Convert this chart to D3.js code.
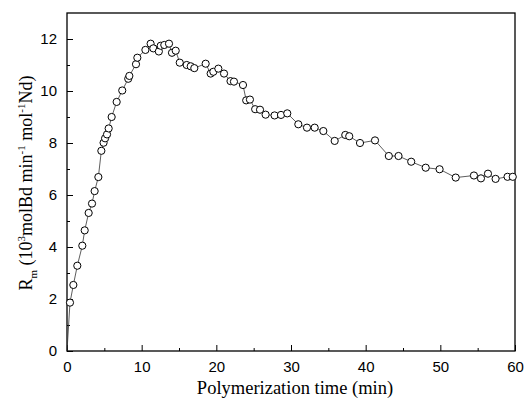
<!DOCTYPE html>
<html>
<head>
<meta charset="utf-8">
<script src="https://cdn.jsdelivr.net/npm/d3@7"></script>
<style>
  body { margin: 0; background: #fff; }
  svg text { fill: #000; }
</style>
</head>
<body>
<svg id="chart" width="525" height="407"></svg>
<script>
// polymerization time (min)
const times = [0, 0.4, 0.85, 1.38, 2.05, 2.37, 2.9, 3.35, 3.7, 4.2, 4.6, 4.9, 5.1, 5.36, 5.58,
  5.98, 6.65, 7.4, 8.2, 8.35, 9.24, 9.42, 10.5, 11.2, 11.56, 12.3, 12.55, 13.03, 13.66,
  14.06, 14.56, 15.1, 16.03, 16.57, 17.05, 18.57, 19.24, 19.6, 20.27, 21.03, 21.9, 22.36,
  23.57, 24.0, 24.5, 25.2, 25.85, 26.6, 27.8, 28.66, 29.5, 30.98, 32.14, 33.17, 34.33,
  35.85, 37.27, 37.8, 39.24, 41.25, 43.1, 44.4, 46.1, 48.04, 49.9, 52.06, 54.5, 55.44,
  56.38, 57.4, 59.0, 59.7];
// Rm (10^3 molBd min^-1 mol^-1 Nd)
const rates = [0, 1.86, 2.54, 3.28, 4.05, 4.64, 5.31, 5.67, 6.15, 6.69, 7.7, 8.01, 8.18, 8.33, 8.56,
  9.0, 9.58, 10.02, 10.47, 10.58, 11.03, 11.28, 11.58, 11.82, 11.64, 11.52, 11.74, 11.77, 11.82,
  11.47, 11.55, 11.09, 11.0, 10.95, 10.88, 11.05, 10.67, 10.74, 10.86, 10.67, 10.38, 10.36,
  10.23, 9.64, 9.67, 9.3, 9.28, 9.09, 9.06, 9.08, 9.14, 8.72, 8.59, 8.59, 8.46,
  8.08, 8.31, 8.26, 8.0, 8.1, 7.5, 7.5, 7.28, 7.05, 6.99, 6.67, 6.75, 6.64,
  6.82, 6.62, 6.7, 6.7];
const xTicks = [0, 10, 20, 30, 40, 50, 60];
const yTicks = [0, 2, 4, 6, 8, 10, 12];

const data = times.map((t, i) => ({ t: t, v: rates[i] }));

const margin = { top: 13, right: 10, bottom: 56, left: 67 };
const width = 525 - margin.left - margin.right;
const height = 407 - margin.top - margin.bottom;

const svg = d3.select('#chart');
const g = svg.append('g')
  .attr('transform', `translate(${margin.left}, ${margin.top})`);

const x = d3.scaleLinear().domain([0, 60]).range([0, width]);
const y = d3.scaleLinear().domain([0, 13]).range([height, 0]);

// axes: ticks pointing inward
const xAxis = d3.axisBottom(x).tickValues(xTicks).tickSizeInner(-6).tickSizeOuter(0).tickPadding(10);
const xMinor = d3.axisBottom(x).tickValues(d3.range(5, 60, 10)).tickSize(-3).tickFormat('');
const yAxis = d3.axisLeft(y).tickValues(yTicks).tickSizeInner(-6).tickSizeOuter(0).tickPadding(10);
const yMinor = d3.axisLeft(y).tickValues(d3.range(1, 13, 2)).tickSize(-3).tickFormat('');

const styleAxis = sel => {
  sel.select('.domain').remove();
  sel.selectAll('line').attr('stroke', '#000').attr('stroke-width', 1);
  sel.selectAll('text')
    .attr('font-family', 'Liberation Sans, Arial, sans-serif')
    .attr('font-size', 15);
};

g.append('g').attr('transform', `translate(0, ${height})`).call(xAxis).call(styleAxis);
g.append('g').attr('transform', `translate(0, ${height})`).call(xMinor).call(styleAxis);
g.append('g').call(yAxis).call(styleAxis);
g.append('g').call(yMinor).call(styleAxis);

// frame
g.append('rect')
  .attr('width', width)
  .attr('height', height)
  .attr('fill', 'none')
  .attr('stroke', '#000')
  .attr('stroke-width', 1.3);

// line + markers
const line = d3.line().x(d => x(d.t)).y(d => y(d.v));

g.append('path')
  .datum(data)
  .attr('d', line)
  .attr('fill', 'none')
  .attr('stroke', '#333')
  .attr('stroke-width', 0.8);

g.selectAll('circle')
  .data(data.slice(1))
  .enter()
  .append('circle')
  .attr('cx', d => x(d.t))
  .attr('cy', d => y(d.v))
  .attr('r', 3.6)
  .attr('fill', '#fff')
  .attr('stroke', '#000')
  .attr('stroke-width', 1);

// axis titles
svg.append('text')
  .attr('x', margin.left + width / 2 + 4)
  .attr('y', 394)
  .attr('text-anchor', 'middle')
  .attr('font-family', 'Liberation Serif, Times New Roman, serif')
  .attr('font-size', 18.5)
  .text('Polymerization time (min)');

const yTitle = svg.append('text')
  .attr('transform', `translate(32, 183) rotate(-90)`)
  .attr('text-anchor', 'middle')
  .attr('font-family', 'Liberation Serif, Times New Roman, serif')
  .attr('font-size', 18);

yTitle.append('tspan').text('R');
yTitle.append('tspan').attr('font-size', 11).attr('dy', 5).text('m');
yTitle.append('tspan').attr('dy', -5).text(' (10');
yTitle.append('tspan').attr('font-size', 11).attr('dy', -7).text('3');
yTitle.append('tspan').attr('dy', 7).text('molBd min');
yTitle.append('tspan').attr('font-size', 11).attr('dy', -7).text('-1');
yTitle.append('tspan').attr('dy', 7).text(' mol');
yTitle.append('tspan').attr('font-size', 11).attr('dy', -7).text('-1');
yTitle.append('tspan').attr('dy', 7).text('Nd)');
</script>
</body>
</html>
